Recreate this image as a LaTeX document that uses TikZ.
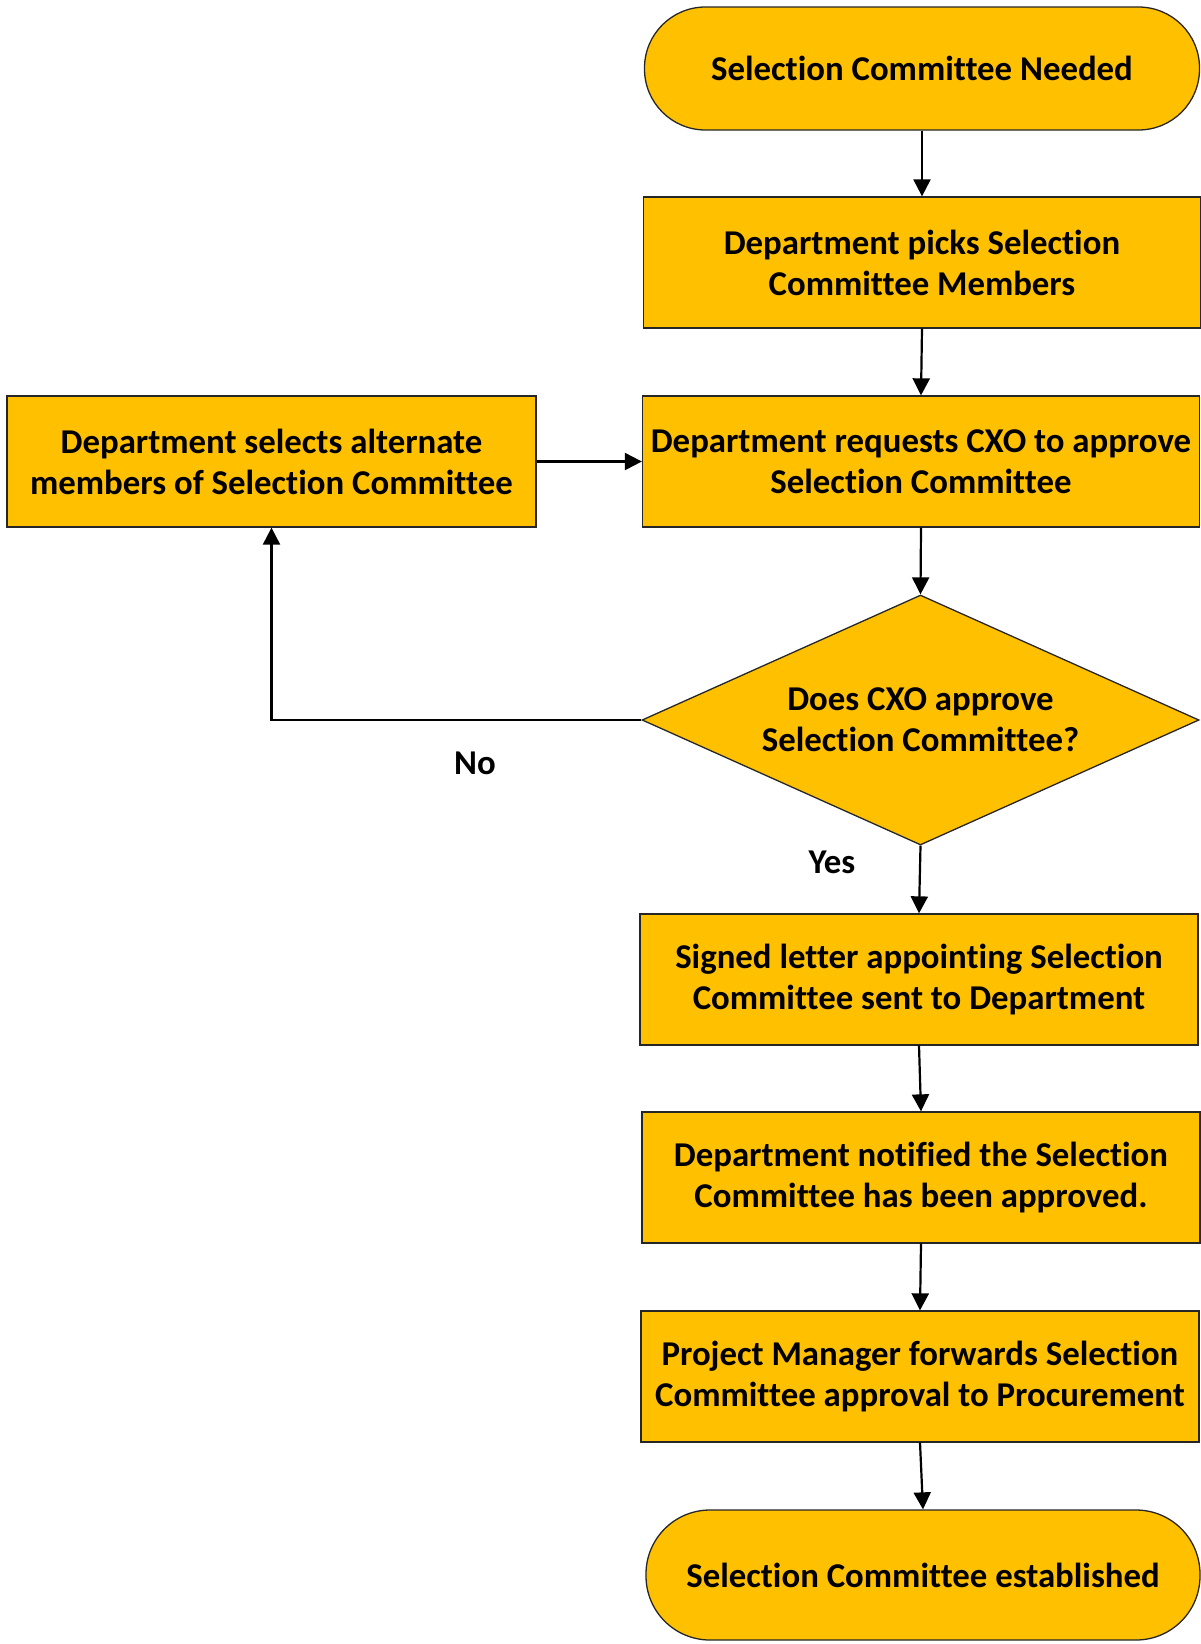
\documentclass[tikz,border=0pt]{standalone}
\usepackage{fontspec}
\setmainfont{Carlito}[Ligatures=NoCommon]
\usetikzlibrary{arrows.meta,shapes.geometric}
\definecolor{boxfill}{HTML}{FFC000}
\begin{document}
\begin{tikzpicture}[x=1pt,y=-1pt,
  font=\fontsize{34.8}{41}\selectfont\bfseries,
  base/.style={draw=black!85, line width=1.3pt, fill=boxfill, inner sep=0pt,
    align=center},
  stepbox/.style={base, rectangle, minimum width=557pt, minimum height=131pt},
  terminal/.style={base, rectangle, rounded corners=61pt, minimum width=555pt, minimum height=123pt},
  decision/.style={draw=black!85, line width=1.3pt, fill=boxfill, diamond, inner sep=0pt,
    minimum width=557pt, minimum height=250pt},
  flow/.style={draw=black, line width=2.2pt, -{Triangle[length=17pt,width=17pt]}},
  lbl/.style={inner sep=0pt, align=center}]
  \useasboundingbox (0,0) rectangle (1201,1644);

  \node[terminal] (start) at (922,68.5) {Selection Committee Needed};
  \node[stepbox] (pick) at (922,262.5) {Department picks Selection\\Committee Members};
  \node[stepbox] (req) at (921,461.5) {Department requests CXO to approve\\Selection Committee};
  \node[stepbox, minimum width=529pt] (alt) at (271.5,461.5) {Department selects alternate\\members of Selection Committee};
  \node[decision] (dec) at (920.5,720) {};
  \node[lbl] (dectext) at (dec.center) {Does CXO approve\\Selection Committee?};
  \node[stepbox, minimum width=558pt] (letter) at (919,979.5) {Signed letter appointing Selection\\Committee sent to Department};
  \node[stepbox, minimum width=558pt] (notify) at (921,1177.5) {Department notified the Selection\\Committee has been approved.};
  \node[stepbox, minimum width=558pt] (pm) at (920,1376.5) {Project Manager forwards Selection\\Committee approval to Procurement};
  \node[terminal, minimum width=554pt, minimum height=130pt, rounded corners=64pt] (end) at (923,1575) {Selection Committee established};

  \node[lbl] (no) at (475,763) {No};
  \node[lbl] (yes) at (832,862) {Yes};

  \coordinate (corner) at (271.5,720);

  \draw[flow] (start.south) -- (pick.north);
  \draw[flow] (pick.south) -- (req.north);
  \draw[flow] (req.south) -- (dec.north);
  \draw[flow] (dec.south) -- (letter.north);
  \draw[flow] (letter.south) -- (notify.north);
  \draw[flow] (notify.south) -- (pm.north);
  \draw[flow] (pm.south) -- (end.north);
  \draw[flow] (alt.east) -- (req.west);
  \draw[flow] (dec.west) -- (corner) -- (alt.south);
\end{tikzpicture}
\end{document}
